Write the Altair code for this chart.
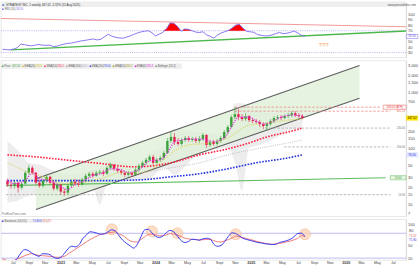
import altair as alt
import pandas as pd

# ---------------- data ----------------
dates = pd.date_range("2022-05-23", periods=84, freq="14D").strftime("%Y-%m-%dT00:00:00").tolist()

opens = [26.5, 22.5, 21.6, 24.4, 19.9, 23.4, 36.7, 45.0, 36.7, 24.4,
         21.6, 26.5, 31.1, 24.4, 19.1, 22.5, 16.9, 16.2, 21.6, 25.4,
         23.4, 22.5, 27.6, 32.4, 35.2, 32.4, 36.7, 38.2, 35.2, 45.0,
         50.9, 43.2, 39.8, 36.7, 33.8, 36.7, 33.8, 41.5, 48.8, 55.2,
         62.4, 70.5, 55.2, 62.4, 67.7, 83.0, 136, 160, 130, 120,
         141, 153, 141, 147, 136, 147, 173, 115, 130, 120,
         136, 153, 196, 240, 361, 408, 361, 333, 376, 319,
         307, 294, 271, 250, 271, 307, 347, 361, 347, 376,
         392, 425, 392, 376]
closes = [22.5, 21.6, 24.4, 19.9, 23.4, 36.7, 45.0, 36.7, 24.4, 21.6,
          26.5, 31.1, 24.4, 19.1, 22.5, 16.9, 16.2, 21.6, 25.4, 23.4,
          22.5, 27.6, 32.4, 35.2, 32.4, 36.7, 38.2, 35.2, 45.0, 50.9,
          43.2, 39.8, 36.7, 33.8, 36.7, 33.8, 41.5, 48.8, 55.2, 62.4,
          70.5, 55.2, 62.4, 67.7, 83.0, 136, 160, 130, 120, 141,
          153, 141, 147, 136, 147, 173, 115, 130, 120, 136,
          153, 196, 240, 361, 408, 361, 333, 376, 319, 307,
          294, 271, 250, 271, 307, 347, 361, 347, 376, 392,
          425, 392, 376, 347]
highs = [28.7, 26.5, 26.5, 25.4, 25.4, 39.8, 50.9, 48.8, 38.2, 27.6,
         28.7, 33.8, 32.4, 26.5, 24.4, 23.4, 19.1, 23.4, 27.6, 28.7,
         27.6, 29.9, 35.2, 38.2, 38.2, 39.8, 41.5, 41.5, 48.8, 55.2,
         53.0, 46.9, 43.2, 39.8, 39.8, 38.2, 45.0, 53.0, 59.9, 67.7,
         76.5, 76.5, 67.7, 73.5, 90.2, 153, 204, 188, 153, 153,
         166, 166, 160, 160, 166, 188, 180, 141, 141, 147,
         166, 212, 260, 392, 543, 500, 408, 425, 392, 347,
         333, 319, 294, 294, 333, 376, 392, 392, 408, 425,
         461, 461, 425, 408]
lows = [20.7, 19.1, 19.1, 16.2, 18.3, 22.5, 33.8, 33.8, 22.5, 19.9,
        19.9, 24.4, 22.5, 17.6, 17.6, 14.9, 14.4, 14.9, 19.9, 21.6,
        20.7, 21.6, 25.4, 29.9, 29.9, 31.1, 33.8, 32.4, 33.8, 41.5,
        39.8, 36.7, 33.8, 31.1, 31.1, 31.1, 32.4, 38.2, 45.0, 50.9,
        57.5, 50.9, 53.0, 57.5, 62.4, 79.7, 125, 115, 111, 111,
        130, 130, 130, 125, 125, 136, 102, 106, 111, 111,
        125, 147, 180, 230, 333, 319, 307, 307, 294, 283,
        271, 240, 221, 212, 250, 283, 319, 319, 333, 347,
        361, 361, 347, 333]

rsi = [36.0, 35.5, 34.9, 36.4, 38.7, 45.6, 44.5, 43.1, 42.4, 43.8,
       44.7, 43.5, 43.3, 43.5, 40.9, 41.8, 44.0, 45.8, 46.9, 47.5,
       49.1, 50.5, 51.8, 52.7, 54.0, 54.9, 53.1, 54.4, 59.1, 63.5,
       60.0, 58.0, 56.9, 56.2, 58.2, 60.4, 63.3, 65.8, 67.8, 69.1,
       70.0, 66.4, 60.4, 63.8, 66.7, 73.6, 84.2, 83.6, 78.0, 69.1,
       73.1, 72.5, 70.0, 67.6, 66.7, 68.2, 62.4, 59.8, 56.5, 61.8,
       65.8, 68.2, 70.5, 74.9, 80.2, 81.8, 74.5, 68.9, 68.0, 67.1,
       62.9, 61.6, 60.4, 60.9, 62.2, 64.7, 66.9, 64.7, 65.3, 66.9,
       69.5, 66.2, 61.8, 59.5]

stoch_k = [14.2, 12.1, 10.2, 11.6, 18.8, 32.0, 40.4, 38.7, 32.2, 27.7,
           24.3, 30.6, 30.3, 28.4, 21.9, 19.3, 21.9, 31.5, 42.8, 48.8,
           47.1, 52.4, 66.8, 75.7, 83.6, 82.6, 80.0, 77.6, 79.0, 83.8,
           88.4, 85.3, 73.8, 63.4, 55.8, 49.8, 44.2, 53.4, 71.6, 88.2,
           89.6, 81.2, 72.8, 69.9, 73.3, 81.7, 87.0, 83.6, 73.3, 62.7,
           57.7, 59.8, 65.6, 65.1, 63.2, 66.6, 68.0, 66.1, 53.6, 48.6,
           50.5, 60.3, 72.6, 81.0, 79.5, 73.8, 67.8, 65.1, 62.7, 60.3,
           57.7, 56.7, 54.8, 53.8, 52.6, 53.4, 57.7, 59.6, 62.2, 65.4,
           71.6, 79.3, 80.2, 71.8]
stoch_d = [18.1, 15.0, 12.1, 14.0, 17.6, 21.7, 25.3, 28.9, 30.8, 28.2,
           26.5, 25.8, 25.0, 24.3, 23.1, 21.7, 22.6, 24.3, 30.3, 35.6,
           41.6, 47.4, 53.1, 59.1, 64.9, 69.4, 73.8, 77.8, 78.6, 81.0,
           82.2, 83.6, 77.8, 74.7, 68.2, 61.8, 59.4, 58.9, 65.1, 71.6,
           76.9, 78.3, 76.4, 74.2, 73.8, 76.4, 79.3, 78.3, 76.2, 72.3,
           68.5, 66.6, 65.1, 64.6, 63.9, 64.4, 65.1, 65.1, 62.2, 59.4,
           58.9, 61.8, 64.6, 68.7, 73.3, 71.6, 69.4, 67.0, 65.1, 62.5,
           60.1, 57.9, 56.0, 54.1, 53.6, 54.3, 55.3, 57.2, 59.4, 61.0,
           64.2, 67.5, 74.0, 73.5]

# moving averages (sampled at candle indices)
red_idx = [0, 8, 16, 27, 35, 41, 46, 54, 62, 68, 73, 79, 83]
red_val = [76.5, 70.5, 62.4, 53.0, 46.9, 48.8, 55.2, 76.5, 97.8, 125, 160, 196, 230]
blue_idx = [0, 13, 27, 38, 46, 54, 62, 70, 79, 83]
blue_val = [26.5, 26.5, 26.5, 27.6, 31.1, 35.2, 43.2, 55.2, 67.7, 76.5]
gray_idx = [38, 46, 54, 62, 70, 79, 83]
gray_val = [36.7, 45.0, 55.2, 76.5, 97.8, 125, 141]
yellow_idx = [0, 5, 10, 16, 21, 27, 32, 38, 43, 47, 51, 57, 62, 68, 73, 79, 83]
yellow_val = [55.2, 39.8, 31.1, 23.4, 24.4, 29.9, 36.7, 36.7, 55.2, 90.2, 115, 125, 153, 260, 283, 319, 333]
mag_idx = [0, 2, 5, 7, 9, 12, 15, 17, 19, 21, 24, 27, 29, 32, 34, 37, 40, 43, 45, 47,
           49, 51, 54, 56, 58, 61, 63, 65, 68, 70, 72, 75, 77, 80, 83]
mag_val = [26.5, 23.4, 26.5, 36.7, 28.7, 26.5, 20.7, 18.3, 22.5, 25.4, 32.4, 36.7, 43.2, 41.5, 36.7, 41.5, 59.9, 62.4, 83.0, 130,
           141, 147, 147, 141, 130, 153, 240, 361, 361, 307, 271, 307, 361, 392, 376]
bb_idx = [0, 3, 6, 9, 13, 17, 21, 24, 26, 28, 32, 36, 40, 44, 47, 51, 55, 59, 62, 64, 66, 68, 71, 75, 79, 83]
bb_up = [136, 90.2, 55.2, 50.9, 39.8, 33.8, 36.7, 41.5, 45.0, 59.9, 57.5, 48.8, 83.0, 110, 221, 204, 188, 180, 260, 639, 639, 543, 461, 425, 461, 461]
bb_lo = [10.8, 11.7, 14.4, 14.9, 14.9, 12.7, 14.9, 19.9, 9.93, 22.5, 28.7, 26.5, 28.7, 45.0, 33.8, 55.2, 90.2, 97.8, 102, 55.2, 17.6, 102, 115, 147, 204, 240]

chan_dates = ["2022-09-12T00:00:00", "2026-03-10T00:00:00"]
chan_upper = [28.7, 3015]
chan_lower = [8.09, 784]
support_dates = ["2022-05-17T00:00:00", "2026-06-21T00:00:00"]
support_vals = [21.6, 29.9]

level_prices = [543, 461, 230, 106, 14.9]
level_start = ["2024-11-04T00:00:00", "2024-11-04T00:00:00", "2025-03-03T00:00:00", "2025-05-17T00:00:00", "2022-05-17T00:00:00"]
level_end = ["2026-05-29T00:00:00", "2026-07-10T00:00:00", "2026-07-10T00:00:00", "2026-07-10T00:00:00", "2026-07-10T00:00:00"]
level_colors = ["#f08a8a", "#f08a8a", "#a8a8a8", "#a8a8a8", "#a8a8a8"]
level_texts = ["543.00 (ATH)", "461.24", "230.00", "106.00", "14.90"]

rsi_res_dates = ["2022-05-17T00:00:00", "2026-08-21T00:00:00"]
rsi_res_vals = [92.4, 77.4]
rsi_sup_dates = ["2022-06-24T00:00:00", "2026-08-21T00:00:00"]
rsi_sup_vals = [34.9, 69.5]

circ_idx = [30, 41, 48, 64, 83]
circ_val = [89.6, 84.8, 80.0, 77.6, 77.6]

main_ticks = [3000, 2000, 1500, 1000, 700, 200, 150, 100, 50, 30, 20, 15, 10, 7]
rsi_ticks = [30, 40, 50, 70, 80, 90, 100]
sto_ticks = [20, 50, 100]
month_ticks = [(2022, 7), (2022, 9), (2022, 11)] + \
    [(y, m) for y in (2023, 2024, 2025) for m in (1, 3, 5, 7, 9, 11)] + \
    [(2026, 1), (2026, 3), (2026, 5), (2026, 7)]

legend_names = ["Price", "EMA(20)", "SMA(50)", "EMA(100)", "SMA(200)", "EMA(10)", "EMA(5)", "Bollinger (20,2)"]
legend_vals = ["347.02", "339.9", "230.1", "141.0", "76.50", "333.2", "376.3", ""]

# ---------------- styling ----------------
GREEN, RED = "#3ca33c", "#e2224c"
legend_cols = [GREEN, "#d8c422", "#ff2a4a", "#a8a8a8", "#2233dd", "#9c9c10", "#e026d8", "#888888"]
W = 408
H_RSI, H_MAIN, H_STO = 56, 157, 41

xsc = alt.Scale(domain=[alt.DateTime(year=2022, month=5, date=17), alt.DateTime(year=2026, month=8, date=21)])
psc = alt.Scale(type="log", domain=[6.1, 3698], nice=False)
rsc = alt.Scale(domain=[20.9, 122.7], nice=False, zero=False)
ssc = alt.Scale(domain=[15.2, 113.6], nice=False, zero=False)

AX = dict(orient="right", ticks=False, labelFontSize=4, labelPadding=1.5, labelColor="#444",
          domainColor="#cccccc", domainWidth=0.6, grid=False, title=None, labelOverlap=False)
main_axis = alt.Axis(values=main_ticks, format=",", **AX)
rsi_axis = alt.Axis(values=rsi_ticks, format="d", **AX)
sto_axis = alt.Axis(values=sto_ticks, format="d", **AX)
x_axis = alt.Axis(
    values=[alt.DateTime(year=y, month=m, date=1) for y, m in month_ticks],
    labelExpr="month(datum.value)==0 ? timeFormat(datum.value,'%Y') : (month(datum.value)==8 ? 'Sept' : timeFormat(datum.value,'%b'))",
    labelFontSize=3.7, labelColor="#444", ticks=False, domain=False, grid=False, labelPadding=0.6,
    labelOverlap=False, labelFlush=False, title=None,
    labelFontWeight={"condition": {"test": "month(datum.value)==0", "value": "bold"}, "value": "normal"})

SC = {"p": (psc, main_axis), "r": (rsc, rsi_axis), "s": (ssc, sto_axis)}


def Y(field, panel):
    sc, ax = SC[panel]
    return alt.Y(f"{field}:Q", scale=sc, axis=ax, title=None)


def xenc(field="date", axis=None):
    return alt.X(f"{field}:T", scale=xsc, axis=axis, title=None)


def label(text, x, y, color="#444", size=3.0, align="left", panel=None, dy=0):
    d = pd.DataFrame({"t": [text], "v": [y]})
    m = alt.Chart(d).mark_text(align=align, baseline="middle", fontSize=size, color=color, dy=dy)
    yy = alt.value(y) if panel is None else Y("v", panel)
    return m.encode(x=alt.value(x), y=yy, text="t:N")


def box(x, y, w, h, fill, stroke=None, panel=None):
    hh = h / w
    path = f"M-1,-{hh:.3f}L1,-{hh:.3f}L1,{hh:.3f}L-1,{hh:.3f}Z"
    d = pd.DataFrame({"v": [y]})
    m = alt.Chart(d).mark_point(shape=path, size=w * w, filled=True, fill=fill,
                                stroke=stroke or fill, strokeWidth=0.5, opacity=1)
    yy = alt.value(y) if panel is None else Y("v", panel)
    return m.encode(x=alt.value(x), y=yy)


def rect(x1, x2, y1, y2, color):
    return alt.Chart(pd.DataFrame({"a": [0]})).mark_rect(color=color).encode(
        x=alt.value(x1), x2=alt.value(x2), y=alt.value(y1), y2=alt.value(y2))


df = pd.DataFrame({"date": dates, "open": opens, "high": highs, "low": lows, "close": closes,
                   "rsi": rsi, "k": stoch_k, "d": stoch_d})

# ---------------- RSI panel ----------------
rsi_layers = [
    rect(0, W, 0, 5, "#efefef"),
    label("■", 1, 2.6, color="#4a7fd0", size=3.4),
    label("STRATEGY INC. 1 weekly  347.02  -2.32%  (11 Aug 2025)", 5, 2.6, color="#333", size=3.0),
    label("www.prorealtime.com", 418, 2.6, color="#555", size=3.0, align="right"),
    label("■", 1, 7.6, color="#7b68ee", size=3.2),
    label("RSI (14)", 3.8, 7.6, color="#555", size=2.9),
    label("59.50", 15, 7.6, color="#7b68ee", size=2.9),
    alt.Chart(pd.DataFrame({"lvl": [70, 30]})).mark_rule(color="#a4a4f4", strokeWidth=0.8, strokeDash=[1, 1.2]).encode(
        y=Y("lvl", "r")),
    alt.Chart(pd.DataFrame({"date": rsi_res_dates, "v": rsi_res_vals})).mark_line(color="#f29a9a", strokeWidth=1.1, clip=True).encode(
        x=xenc(), y=Y("v", "r")),
    alt.Chart(pd.DataFrame({"date": rsi_sup_dates, "v": rsi_sup_vals})).mark_line(color="#4cb84c", strokeWidth=1.3, clip=True).encode(
        x=xenc(), y=Y("v", "r")),
    alt.Chart(df).transform_calculate(top="max(datum.rsi, 70)").mark_area(color="#ff0000", clip=True).encode(
        x=xenc(), y=Y("top", "r"), y2=alt.datum(70)),
    alt.Chart(df).mark_line(color="#7b68ee", strokeWidth=0.9, clip=True).encode(
        x=xenc(), y=Y("rsi", "r")),
    label("???", 320, 43, color="#f4a062", size=6),
    box(414, 59.5, 11.5, 4.2, "#ffffff", "#7b68ee", panel="r"),
    label("59.50", 414, 59.5, color="#5a4ad0", size=3.0, align="center", panel="r"),
]
rsi_panel = alt.layer(*rsi_layers).properties(width=W, height=H_RSI)

# ---------------- main panel ----------------
cond = alt.condition("datum.close >= datum.open", alt.value(GREEN), alt.value(RED))

chan_df = pd.DataFrame({"date": chan_dates, "upper": chan_upper, "lower": chan_lower})
chan_lines = pd.DataFrame({"date": chan_dates * 2, "v": chan_upper + chan_lower,
                           "line": ["u", "u", "l", "l"]})
bb_df = pd.DataFrame({"date": [dates[i] for i in bb_idx], "up": bb_up, "lo": bb_lo})
lev_df = pd.DataFrame({"start": level_start, "end": level_end, "price": level_prices, "col": level_colors})


def ma(idx, vals, color, width, dash):
    d = pd.DataFrame({"date": [dates[i] for i in idx], "v": vals})
    return alt.Chart(d).mark_line(color=color, strokeWidth=width, strokeDash=dash, clip=True,
                                  interpolate="monotone").encode(x=xenc(), y=Y("v", "p"))


main_layers = [
    alt.Chart(bb_df).mark_area(color="#d6d6d6", opacity=0.45, interpolate="monotone", clip=True).encode(
        x=xenc(), y=Y("up", "p"), y2=alt.Y2("lo")),
    alt.Chart(chan_df).mark_area(color="#dcefd5", opacity=0.75, clip=True).encode(
        x=xenc(), y=Y("upper", "p"), y2=alt.Y2("lower")),
    alt.Chart(chan_lines).mark_line(color="#5c5c5c", strokeWidth=1.1, clip=True).encode(
        x=xenc(), y=Y("v", "p"), detail="line:N"),
    alt.Chart(pd.DataFrame({"date": support_dates, "v": support_vals})).mark_line(color="#62bd62", strokeWidth=1.2, clip=True).encode(
        x=xenc(), y=Y("v", "p")),
    alt.Chart(lev_df).mark_rule(strokeWidth=0.8, strokeDash=[2.5, 1.6]).encode(
        x=xenc("start"), x2=alt.X2("end"), y=Y("price", "p"),
        color=alt.Color("col:N", scale=None)),
    ma(gray_idx, gray_val, "#b8b8b8", 0.9, [1, 1.2]),
    ma(red_idx, red_val, "#ff2040", 1.6, [1.6, 1.4]),
    ma(blue_idx, blue_val, "#2030e0", 1.6, [1.6, 1.4]),
    alt.Chart(df).mark_rule(strokeWidth=0.6).encode(
        x=xenc(), y=Y("low", "p"), y2=alt.Y2("high"), color=cond),
    alt.Chart(df).mark_bar(size=2.4).encode(
        x=xenc(), y=Y("open", "p"), y2=alt.Y2("close"), color=cond),
    ma(yellow_idx, yellow_val, "#dccb3a", 0.9, [1, 1.2]),
    ma(mag_idx, mag_val, "#e335e3", 1.2, [1.2, 1.2]),
    rect(0, 182, 3, 8.2, "#eeeeee"),
]

# legend row
cx = 0.8
for name, val, col in zip(legend_names, legend_vals, legend_cols):
    main_layers.append(label("■", cx, 5.6, color=col, size=3.0))
    cx += 2.4
    main_layers.append(label(name, cx, 5.6, color="#555", size=2.7))
    cx += len(name) * 1.42 + 0.8
    if val:
        main_layers.append(label(val, cx, 5.6, color=col, size=2.7))
        cx += len(val) * 1.35 + 2.2

main_layers.append(label("ProRealTime.com", 1, 154.5, color="#777", size=3.0))

# level labels
main_layers.append(box(396.5, 543, 23, 4.2, "#ffffff", "#e85a5a", panel="p"))
main_layers.append(label(level_texts[0], 396.5, 543, color="#e53935", size=2.8, align="center", panel="p"))
for t, p, c in zip(level_texts[1:], level_prices[1:], ["#e57373", "#777", "#777", "#777"]):
    main_layers.append(label(t, 407, p, color=c, size=2.8, align="right", panel="p"))
main_layers.append(box(400, 29.9, 16, 4.2, "#e6f6e1", "#62bd62", panel="p"))
main_layers.append(label("29.90", 400, 29.9, color="#3c9a3c", size=2.8, align="center", panel="p"))
# right-axis value tags
main_layers.append(box(414, 347, 11.5, 4.4, "#ffe400", panel="p"))
main_layers.append(label("347.02", 414, 347, color="#111", size=3.0, align="center", panel="p"))
main_layers.append(box(414, 76.5, 11.5, 4.4, "#e0e4ff", panel="p"))
main_layers.append(label("76.50", 414, 76.5, color="#2233dd", size=3.0, align="center", panel="p"))

main_panel = alt.layer(*main_layers).properties(width=W, height=H_MAIN)

# ---------------- stochastic panel ----------------
circ_df = pd.DataFrame({"date": [dates[i] for i in circ_idx], "v": circ_val})
sto_layers = [
    alt.Chart(pd.DataFrame({"lvl": [80, 20]})).mark_rule(color="#bcbcf2", strokeWidth=1).encode(
        y=Y("lvl", "s")),
    alt.Chart(circ_df).mark_point(shape="circle", size=121, filled=True, fill="#fcd3b3", stroke="#f6b285",
                                  strokeWidth=0.8, opacity=0.75).encode(
        x=xenc(axis=x_axis), y=Y("v", "s")),
    alt.Chart(df).mark_line(color="#f07a7a", strokeWidth=1, clip=True, interpolate="monotone").encode(
        x=xenc(axis=x_axis), y=Y("d", "s")),
    alt.Chart(df).mark_line(color="#3a3af0", strokeWidth=1, clip=True, interpolate="monotone").encode(
        x=xenc(axis=x_axis), y=Y("k", "s")),
    rect(0, 49, 0, 3.4, "#eeeeee"),
    label("■", 0.8, 1.7, color="#3a3af0", size=3.0),
    label("Stochastic (14,3,5)", 3.3, 1.7, color="#555", size=2.7),
    label("71.80%", 32, 1.7, color="#3a3af0", size=2.7),
    label("73.52%", 41.5, 1.7, color="#f07070", size=2.7),
    label("80", 411, 80, color="#444", size=4, panel="s", dy=-2.6),
    label("73.52", 411, 73.5, color="#e05a5a", size=3.0, panel="s", dy=0.2),
    label("71.80", 411, 71.8, color="#3a3af0", size=3.0, panel="s", dy=3.6),
]
sto_panel = alt.layer(*sto_layers).properties(width=W, height=H_STO)

chart = alt.vconcat(rsi_panel, main_panel, sto_panel, spacing=1).properties(
    padding=0, background="white"
).configure(font="Liberation Sans").configure_view(stroke="#d8d8d8", strokeWidth=0.6)

chart.save("out.html", embed_options={"renderer": "svg", "actions": False})
